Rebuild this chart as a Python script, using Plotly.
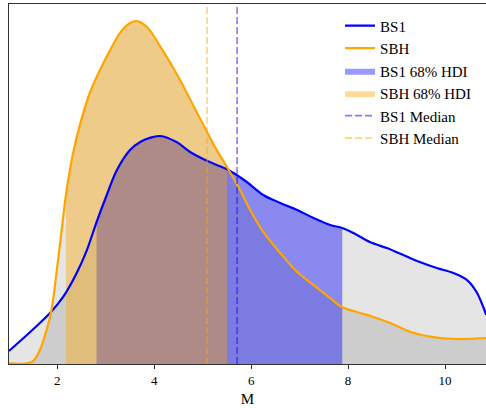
import plotly.graph_objects as go

# ---- data (density values) ----
bs1_x = [1.00, 1.44, 1.85, 2.12, 2.40, 2.61, 2.81, 3.02, 3.23, 3.50, 3.71, 3.90, 4.12, 4.46,
         4.74, 5.01, 5.29, 5.53, 5.91, 6.25, 6.60, 6.95, 7.29, 7.63, 7.88, 8.11, 8.45, 8.80,
         9.14, 9.48, 9.83, 10.17, 10.45, 10.65, 10.79, 10.85]
bs1_y = [0.0097, 0.0239, 0.0380, 0.0500, 0.0679, 0.0850, 0.1059, 0.1261, 0.1447, 0.1596,
         0.1656, 0.1686, 0.1701, 0.1656, 0.1582, 0.1529, 0.1485, 0.1447, 0.1358, 0.1261,
         0.1201, 0.1149, 0.1089, 0.1037, 0.1015, 0.0977, 0.0910, 0.0865, 0.0813, 0.0761,
         0.0716, 0.0679, 0.0627, 0.0537, 0.0425, 0.0366]

sbh_x = [1.00, 1.36, 1.50, 1.64, 1.78, 1.88, 1.99, 2.09, 2.18, 2.33, 2.47, 2.67, 2.88, 3.09,
         3.29, 3.50, 3.64, 3.85, 4.12, 4.50, 4.80, 5.09, 5.29, 5.50, 5.77, 5.98, 6.25, 6.60,
         6.95, 7.29, 7.63, 7.87, 8.18, 8.52, 8.87, 9.29, 9.76, 10.17, 10.50, 10.85]
sbh_y = [0.0004, 0.0004, 0.0022, 0.0104, 0.0254, 0.0403, 0.0701, 0.1000, 0.1268, 0.1582,
         0.1790, 0.2022, 0.2193, 0.2342, 0.2469, 0.2544, 0.2559, 0.2514, 0.2372, 0.2141,
         0.1932, 0.1731, 0.1596, 0.1470, 0.1298, 0.1149, 0.0985, 0.0828, 0.0686, 0.0589,
         0.0492, 0.0425, 0.0388, 0.0351, 0.0306, 0.0239, 0.0201, 0.0187, 0.0187, 0.0194]

bs1_hdi = (2.81, 7.88)
sbh_hdi = (2.18, 5.50)
bs1_median = 5.71
sbh_median = 5.09

x_ticks = [2, 4, 6, 8, 10]
x_range = [1.003, 10.846]
y_top = 0.2686

FONT = "Liberation Serif, Times New Roman, serif"
SMOOTH = 1.0


def subset(xs, ys, lo, hi):
    pts = [(a, b) for a, b in zip(xs, ys) if lo <= a <= hi]
    return [p[0] for p in pts], [p[1] for p in pts]


fig = go.Figure()

# grey fills under both curves
for xs, ys in [(bs1_x, bs1_y), (sbh_x, sbh_y)]:
    fig.add_trace(go.Scatter(x=xs, y=ys, mode="lines", fill="tozeroy",
                             fillcolor="rgba(0,0,0,0.1)",
                             line=dict(width=0, shape="spline", smoothing=SMOOTH),
                             showlegend=False, hoverinfo="skip"))

# HDI fills
hx, hy = subset(bs1_x, bs1_y, *bs1_hdi)
fig.add_trace(go.Scatter(x=hx, y=hy, mode="lines", fill="tozeroy",
                         fillcolor="rgba(0,0,255,0.4)",
                         line=dict(width=0, color="rgba(0,0,255,0.4)", shape="spline", smoothing=SMOOTH),
                         name="BS1 68% HDI", legendrank=3))
hx, hy = subset(sbh_x, sbh_y, *sbh_hdi)
fig.add_trace(go.Scatter(x=hx, y=hy, mode="lines", fill="tozeroy",
                         fillcolor="rgba(255,165,0,0.4)",
                         line=dict(width=0, color="rgba(255,165,0,0.4)", shape="spline", smoothing=SMOOTH),
                         name="SBH 68% HDI", legendrank=4))

# curves
fig.add_trace(go.Scatter(x=bs1_x, y=bs1_y, mode="lines", name="BS1", legendrank=1,
                         line=dict(color="#0000ff", width=2.2, shape="spline", smoothing=SMOOTH)))
fig.add_trace(go.Scatter(x=sbh_x, y=sbh_y, mode="lines", name="SBH", legendrank=2,
                         line=dict(color="#ffa500", width=2.2, shape="spline", smoothing=SMOOTH)))

# medians
fig.add_trace(go.Scatter(x=[bs1_median, bs1_median], y=[0, y_top], mode="lines",
                         name="BS1 Median", legendrank=5,
                         line=dict(color="rgba(0,0,255,0.5)", width=1.6, dash="7px,3px")))
fig.add_trace(go.Scatter(x=[sbh_median, sbh_median], y=[0, y_top], mode="lines",
                         name="SBH Median", legendrank=6,
                         line=dict(color="rgba(255,165,0,0.5)", width=1.6, dash="7px,3px")))

fig.update_layout(
    width=486, height=408,
    margin=dict(l=9, r=0, t=4, b=44),
    paper_bgcolor="white", plot_bgcolor="white",
    font=dict(family=FONT, color="black"),
    showlegend=True,
    legend=dict(x=0.694, y=0.985, xanchor="left", yanchor="top",
                bgcolor="rgba(0,0,0,0)", borderwidth=0,
                font=dict(family=FONT, size=15, color="black"),
                itemwidth=30, tracegroupgap=0),
)
fig.update_xaxes(range=x_range, tickvals=x_ticks, ticktext=[str(t) for t in x_ticks],
                 ticks="outside", ticklen=4, tickcolor="#333", tickwidth=1,
                 tickfont=dict(family=FONT, size=13),
                 title=dict(text="M", font=dict(family=FONT, size=15), standoff=6),
                 showline=True, linecolor="#333", linewidth=1.2, mirror=True,
                 showgrid=False, zeroline=False)
fig.update_yaxes(range=[0, y_top], showticklabels=False, ticks="",
                 showline=True, linecolor="#333", linewidth=1.2, mirror=True,
                 showgrid=False, zeroline=False)

fig.write_html("out.html")
